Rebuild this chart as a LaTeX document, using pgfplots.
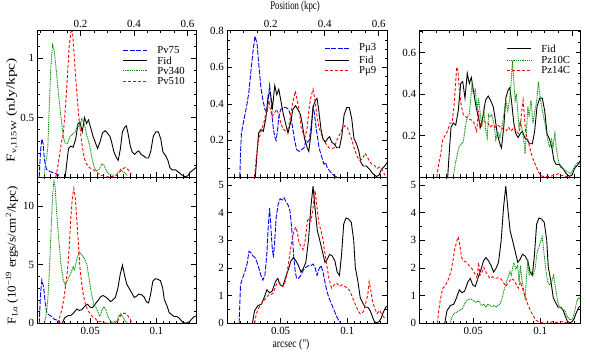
\documentclass[border=0pt]{standalone}
\usepackage{fontspec}
\setmainfont{Liberation Serif}
\usepackage{graphicx}
\usepackage{pgfplots}
\usepackage{pgfplotstable}
\pgfplotsset{compat=1.18}
\definecolor{cb}{rgb}{0,0,1}
\definecolor{cg}{rgb}{0,0.55,0}
\definecolor{cr}{rgb}{1,0,0}
\tikzset{
 fid/.style={draw=black, line width=0.9bp},
 pb/.style={draw=cb, line width=0.9bp, dash pattern=on 5bp off 1.5bp},
 pg/.style={draw=cg, line width=0.9bp, dash pattern=on 1bp off 0.8bp},
 pr/.style={draw=cr, line width=0.9bp, dash pattern=on 3bp off 2bp},
 lt/.style={anchor=west, inner sep=0pt, xshift=34bp, font=\fontsize{10.8}{11}\selectfont},
}
\pgfplotsset{
 panel/.style={scale only axis, height=146.3bp, xmin=0.01, xmax=0.13, ymin=0, anchor=south west,
   xtick={0.05,0.1}, xticklabels={0.05,0.1},
   minor xtick={0.015,0.02,0.025,0.03,0.035,0.04,0.045,0.055,0.06,0.065,0.07,0.075,0.08,0.085,0.09,0.095,0.105,0.11,0.115,0.12,0.125},
   tick align=inside, major tick length=5bp, minor tick length=2.5bp,
   tick style={black, line width=0.5bp}, axis line style={line width=0.6bp},
   ticklabel style={font=\fontsize{11}{13}\selectfont},
   /pgf/number format/assume math mode=true, scaled ticks=false},
 toprow/.style={panel, xticklabels={}, xtick pos=bottom},
 kpc/.style={scale only axis, height=146.3bp, xmin=0.01, xmax=0.13, ymin=0, ymax=1, anchor=south west,
   hide y axis, xtick pos=top, xticklabel pos=top,
   xtick={0.0425,0.083,0.1235}, xticklabels={0.2,0.4,0.6},
   minor xtick={0.0121,0.0223,0.0324,0.0526,0.0628,0.0729,0.0931,0.1033,0.1134},
   tick align=inside, major tick length=5bp, minor tick length=2.5bp,
   tick style={black, line width=0.5bp}, axis line style={line width=0.6bp},
   ticklabel style={font=\fontsize{11}{13}\selectfont},
   /pgf/number format/assume math mode=true},
}
% ---------- data ----------
\pgfplotstableread{
x y
0.0310 0.00
0.0325 0.15
0.0335 0.24
0.0352 0.26
0.0370 0.25
0.0389 0.32
0.0407 0.45
0.0422 0.46
0.0439 0.38
0.0456 0.50
0.0471 0.45
0.0486 0.48
0.0501 0.42
0.0521 0.34
0.0538 0.29
0.0555 0.24
0.0575 0.30
0.0592 0.37
0.0612 0.39
0.0629 0.37
0.0649 0.34
0.0662 0.29
0.0679 0.21
0.0699 0.16
0.0711 0.14
0.0728 0.24
0.0743 0.38
0.0761 0.42
0.0773 0.43
0.0785 0.37
0.0803 0.26
0.0817 0.21
0.0835 0.19
0.0852 0.21
0.0867 0.22
0.0884 0.19
0.0902 0.18
0.0921 0.16
0.0941 0.16
0.0958 0.22
0.0976 0.34
0.0996 0.38
0.1015 0.38
0.1033 0.32
0.1050 0.21
0.1070 0.18
0.1087 0.14
0.1102 0.08
0.1119 0.06
0.1144 0.06
0.1169 0.04
0.1194 0.016
0.1218 0.003
0.1238 0.01
0.1255 0.04
0.1280 0.06
0.1300 0.08
}\fidT
\pgfplotstableread{
x y
0.0288 0
0.0305 0.46
0.0330 0.64
0.0355 0.69
0.0372 0.87
0.0397 1.21
0.0417 1.10
0.0436 1.16
0.0461 1.50
0.0479 1.62
0.0496 1.39
0.0516 1.33
0.0535 1.62
0.0560 1.97
0.0577 2.25
0.0595 2.37
0.0615 2.25
0.0634 2.08
0.0652 1.85
0.0669 1.97
0.0689 2.20
0.0709 3.00
0.0726 4.16
0.0743 4.95
0.0758 4.16
0.0775 3.35
0.0793 3.00
0.0813 2.60
0.0832 2.20
0.0850 2.31
0.0867 2.49
0.0887 2.43
0.0907 2.25
0.0924 1.85
0.0941 1.73
0.0956 2.43
0.0973 3.58
0.0991 3.80
0.1010 3.76
0.1030 3.64
0.1048 3.00
0.1060 2.02
0.1080 1.50
0.1097 0.92
0.1114 0.75
0.1134 0.58
0.1154 0.58
0.1171 0.46
0.1189 0.23
0.1203 0.06
0.1221 0.02
0.1238 0.06
0.1253 0.17
0.1270 0.40
0.1288 0.58
0.1300 0.62
}\fidB
\pgfplotstableread{
x y
0.0113 0
0.0123 0.22
0.0133 0.32
0.0143 0.28
0.0153 0.14
0.0168 0.065
0.0188 0.05
0.0214 0.037
0.0239 0.03
0.0259 0.017
0.0269 0
}\vSevenFiveT
\pgfplotstableread{
x y
0.0113 0
0.0123 2.5
0.0133 3.68
0.0146 3.1
0.0159 1.7
0.0171 0.85
0.0189 0.7
0.0209 0.57
0.0227 0.34
0.0245 0.28
0.0260 0.28
0.0270 0
}\vSevenFiveB
\pgfplotstableread{
x y
0.0151 0
0.0158 0.09
0.0168 0.16
0.0178 0.25
0.0188 0.56
0.0201 0.93
0.0214 1.11
0.0226 1.07
0.0239 0.93
0.0259 0.70
0.0277 0.51
0.0295 0.34
0.0310 0.28
0.0327 0.28
0.0345 0.34
0.0365 0.36
0.0385 0.38
0.0403 0.43
0.0421 0.42
0.0436 0.49
0.0454 0.45
0.0471 0.36
0.0492 0.28
0.0512 0.16
0.0529 0.08
0.0547 0.05
0.0567 0.065
0.0588 0.11
0.0605 0.094
0.0623 0.05
0.0643 0.023
0.0668 0.017
0.0694 0.017
0.0714 0.045
0.0729 0.065
0.0744 0.045
0.0764 0.03
0.0782 0.01
}\vThreeT
\pgfplotstableread{
x y
0.0151 0
0.0163 0.57
0.0176 1.7
0.0188 4.0
0.0201 7.4
0.0214 10.8
0.0224 12.2
0.0234 11.6
0.0244 9.6
0.0259 7.4
0.0277 5.1
0.0295 3.7
0.0310 3.26
0.0327 3.7
0.0345 4.1
0.0360 4.5
0.0370 4.8
0.0380 4.5
0.0396 5.4
0.0416 6.1
0.0436 5.8
0.0456 5.5
0.0474 5.0
0.0492 3.7
0.0512 2.3
0.0529 1.56
0.0542 1.4
0.0557 1.0
0.0572 0.57
0.0588 1.13
0.0603 1.4
0.0618 1.13
0.0633 0.57
0.0648 0.28
0.0663 0.06
0.0681 0.14
0.0699 0.14
0.0714 0.57
0.0729 0.8
0.0744 0.57
0.0759 0.28
0.0779 0.06
}\vThreeB
\pgfplotstableread{
x y
0.0239 0
0.0252 0.08
0.0264 0.16
0.0279 0.28
0.0295 0.36
0.0310 0.56
0.0325 0.82
0.0340 1.10
0.0353 1.22
0.0363 1.25
0.0375 1.07
0.0390 0.82
0.0406 0.59
0.0421 0.42
0.0436 0.28
0.0454 0.16
0.0471 0.11
0.0492 0.08
0.0517 0.065
0.0542 0.045
0.0567 0.023
0.0593 0.01
0.0618 0.0
0.0656 0.003
0.0694 0.01
0.0719 0.037
0.0739 0.065
0.0764 0.08
0.0790 0.057
0.0810 0.023
}\vFiveT
\pgfplotstableread{
x y
0.0259 0
0.0269 0.57
0.0284 1.13
0.0302 2.27
0.0315 3.4
0.0327 4.5
0.0340 6.5
0.0353 9.1
0.0365 10.8
0.0375 11.5
0.0385 10.8
0.0398 8.8
0.0411 6.5
0.0423 4.5
0.0441 2.8
0.0461 1.7
0.0479 1.13
0.0497 0.85
0.0517 0.57
0.0537 0.42
0.0557 0.14
0.0577 0.14
0.0598 0.06
0.0630 0
0.0681 0
0.0706 0.14
0.0724 0.57
0.0744 0.85
0.0764 0.85
0.0785 0.62
0.0800 0.42
0.0810 0.14
}\vFiveB
\pgfplotstableread{
x y
0.0194 0
0.0199 0.13
0.0206 0.24
0.0224 0.31
0.0243 0.38
0.0261 0.46
0.0276 0.57
0.0293 0.69
0.0308 0.77
0.0323 0.73
0.0338 0.60
0.0352 0.49
0.0367 0.42
0.0382 0.37
0.0397 0.35
0.0407 0.42
0.0417 0.50
0.0427 0.44
0.0436 0.33
0.0446 0.26
0.0456 0.22
0.0466 0.20
0.0476 0.25
0.0486 0.33
0.0501 0.37
0.0521 0.38
0.0540 0.38
0.0560 0.37
0.0577 0.33
0.0590 0.27
0.0605 0.20
0.0620 0.15
0.0639 0.14
0.0659 0.15
0.0676 0.16
0.0689 0.20
0.0699 0.19
0.0714 0.20
0.0728 0.27
0.0743 0.38
0.0753 0.35
0.0768 0.26
0.0788 0.16
0.0808 0.11
0.0825 0.07
0.0837 0.08
0.0850 0.05
0.0874 0.027
0.0899 0.009
0.0924 0
}\muThreeT
\pgfplotstableread{
x y
0.0189 0
0.0199 1.39
0.0214 1.62
0.0231 1.85
0.0248 2.14
0.0263 2.6
0.0278 2.54
0.0293 2.43
0.0308 2.37
0.0323 2.2
0.0338 1.97
0.0352 1.73
0.0367 1.56
0.0382 1.73
0.0397 2.54
0.0407 3.47
0.0417 4.16
0.0427 3.47
0.0436 2.77
0.0446 2.37
0.0456 3.0
0.0466 3.8
0.0481 4.28
0.0496 4.5
0.0511 4.45
0.0526 4.53
0.0540 4.39
0.0555 4.28
0.0570 4.05
0.0580 3.58
0.0590 3.0
0.0600 2.31
0.0610 1.85
0.0620 1.62
0.0634 1.62
0.0652 1.73
0.0669 1.91
0.0689 2.02
0.0709 2.08
0.0728 2.08
0.0743 2.14
0.0758 2.02
0.0773 1.73
0.0788 1.97
0.0803 2.08
0.0818 1.85
0.0832 1.5
0.0847 1.16
0.0862 0.92
0.0882 0.69
0.0902 0.46
0.0921 0.23
0.0941 0.06
0.0956 0
}\muThreeB
\pgfplotstableread{
x y
0.0305 0
0.0318 0.11
0.0330 0.18
0.0342 0.22
0.0357 0.26
0.0372 0.29
0.0387 0.34
0.0402 0.38
0.0412 0.42
0.0422 0.37
0.0436 0.33
0.0454 0.35
0.0471 0.37
0.0486 0.34
0.0503 0.29
0.0521 0.26
0.0540 0.25
0.0560 0.27
0.0577 0.35
0.0595 0.42
0.0610 0.47
0.0624 0.42
0.0639 0.37
0.0654 0.27
0.0669 0.24
0.0684 0.22
0.0699 0.27
0.0714 0.38
0.0728 0.44
0.0743 0.48
0.0758 0.42
0.0773 0.33
0.0788 0.27
0.0803 0.24
0.0822 0.20
0.0842 0.18
0.0862 0.16
0.0882 0.155
0.0902 0.16
0.0921 0.20
0.0941 0.23
0.0961 0.26
0.0981 0.28
0.1001 0.27
0.1015 0.24
0.1035 0.20
0.1055 0.15
0.1075 0.11
0.1095 0.09
0.1114 0.10
0.1134 0.13
0.1149 0.11
0.1164 0.09
0.1184 0.07
0.1203 0.064
0.1223 0.046
0.1243 0.055
0.1263 0.037
0.1283 0.009
}\muNineT
\pgfplotstableread{
x y
0.0305 0
0.0318 0.35
0.0338 0.58
0.0355 0.69
0.0372 0.81
0.0392 0.92
0.0412 1.04
0.0429 1.04
0.0446 1.1
0.0461 1.33
0.0479 1.5
0.0496 1.45
0.0516 1.33
0.0535 1.5
0.0553 1.97
0.0570 2.54
0.0585 3.0
0.0602 3.35
0.0615 3.47
0.0627 3.24
0.0639 2.89
0.0654 2.77
0.0669 2.66
0.0684 3.0
0.0701 3.7
0.0714 3.8
0.0728 3.7
0.0743 4.16
0.0758 4.8
0.0773 4.16
0.0788 3.58
0.0803 3.35
0.0818 3.0
0.0832 2.54
0.0847 2.08
0.0862 1.62
0.0882 1.27
0.0902 1.39
0.0921 1.45
0.0941 1.33
0.0961 1.39
0.0981 1.33
0.1001 1.27
0.1020 1.16
0.1040 0.92
0.1060 0.69
0.1080 0.46
0.1095 0.35
0.1109 0.35
0.1124 0.46
0.1139 0.75
0.1154 1.04
0.1164 1.5
0.1174 1.27
0.1189 0.81
0.1203 0.58
0.1223 0.35
0.1243 0.46
0.1263 0.29
0.1283 0.17
}\muNineB
\pgfplotstableread{
x y
0.0352 0
0.0367 0.064
0.0382 0.11
0.0397 0.15
0.0412 0.16
0.0427 0.17
0.0441 0.24
0.0456 0.29
0.0471 0.30
0.0481 0.37
0.0491 0.45
0.0501 0.40
0.0516 0.42
0.0530 0.32
0.0540 0.38
0.0550 0.32
0.0565 0.24
0.0580 0.32
0.0595 0.22
0.0605 0.19
0.0615 0.30
0.0625 0.29
0.0639 0.30
0.0654 0.26
0.0669 0.18
0.0684 0.22
0.0699 0.19
0.0714 0.24
0.0728 0.30
0.0743 0.37
0.0758 0.32
0.0773 0.38
0.0783 0.46
0.0793 0.56
0.0803 0.46
0.0813 0.37
0.0822 0.40
0.0832 0.32
0.0842 0.24
0.0852 0.27
0.0867 0.22
0.0877 0.18
0.0887 0.11
0.0897 0.22
0.0907 0.34
0.0917 0.29
0.0931 0.37
0.0946 0.26
0.0961 0.32
0.0976 0.38
0.0986 0.46
0.0996 0.40
0.1010 0.34
0.1025 0.29
0.1040 0.24
0.1055 0.18
0.1070 0.144
0.1085 0.18
0.1095 0.144
0.1109 0.21
0.1119 0.144
0.1134 0.08
0.1149 0.048
0.1169 0.04
0.1189 0.032
0.1208 0.024
0.1228 0.016
0.1248 0.04
0.1268 0.064
0.1288 0.072
0.1300 0.056
}\zTenT
\pgfplotstableread{
x y
0.0328 0
0.0342 0.23
0.0357 0.35
0.0377 0.40
0.0397 0.46
0.0417 0.52
0.0436 0.69
0.0451 0.81
0.0466 0.87
0.0486 0.87
0.0506 0.81
0.0521 0.75
0.0535 0.81
0.0550 0.75
0.0565 0.64
0.0580 0.69
0.0595 0.58
0.0610 0.69
0.0625 0.64
0.0639 0.6
0.0654 0.64
0.0669 0.58
0.0684 0.64
0.0699 0.69
0.0714 0.87
0.0728 1.16
0.0743 1.39
0.0758 1.62
0.0773 1.85
0.0783 1.73
0.0793 1.97
0.0803 2.2
0.0818 1.97
0.0832 2.08
0.0842 1.5
0.0852 2.08
0.0862 1.62
0.0877 1.16
0.0887 0.92
0.0897 1.62
0.0907 2.31
0.0917 1.73
0.0931 1.85
0.0946 1.73
0.0961 1.97
0.0976 2.54
0.0991 2.77
0.1006 3.0
0.1015 3.12
0.1025 2.66
0.1040 1.97
0.1055 1.5
0.1070 1.39
0.1085 1.5
0.1099 1.73
0.1114 1.27
0.1129 0.81
0.1144 0.58
0.1164 0.52
0.1184 0.46
0.1203 0.23
0.1223 0.12
0.1243 0.17
0.1258 0.46
0.1273 0.81
0.1288 0.92
0.1300 0.87
}\zTenB
\pgfplotstableread{
x y
0.0229 0
0.0243 0.064
0.0258 0.11
0.0273 0.18
0.0291 0.20
0.0308 0.22
0.0328 0.26
0.0342 0.26
0.0357 0.34
0.0367 0.43
0.0377 0.53
0.0387 0.51
0.0397 0.42
0.0412 0.34
0.0427 0.30
0.0446 0.29
0.0466 0.28
0.0486 0.275
0.0501 0.27
0.0516 0.24
0.0526 0.22
0.0540 0.32
0.0550 0.24
0.0565 0.26
0.0580 0.27
0.0595 0.26
0.0610 0.26
0.0625 0.24
0.0644 0.25
0.0664 0.24
0.0684 0.25
0.0704 0.24
0.0723 0.23
0.0743 0.22
0.0763 0.24
0.0783 0.22
0.0803 0.24
0.0822 0.22
0.0837 0.21
0.0852 0.24
0.0862 0.32
0.0872 0.37
0.0882 0.29
0.0892 0.21
0.0907 0.18
0.0921 0.144
0.0941 0.096
0.0961 0.064
0.0981 0.032
0.1001 0.008
0.1020 0.003
0.1070 0.003
0.1107 0.008
0.1132 0.016
0.1156 0.008
0.1194 0.003
0.1218 0
}\zFourT
\pgfplotstableread{
x y
0.0234 0
0.0243 0.46
0.0258 0.92
0.0273 1.27
0.0288 1.33
0.0303 1.45
0.0318 1.62
0.0333 1.85
0.0347 2.2
0.0362 2.66
0.0377 2.95
0.0389 3.12
0.0402 2.77
0.0414 2.37
0.0432 2.25
0.0451 2.2
0.0471 2.08
0.0491 1.97
0.0506 1.85
0.0521 1.73
0.0530 1.62
0.0540 2.2
0.0550 1.73
0.0565 1.85
0.0580 2.02
0.0595 1.85
0.0610 1.73
0.0625 1.62
0.0644 1.68
0.0664 1.62
0.0684 1.64
0.0704 1.62
0.0723 1.5
0.0743 1.33
0.0763 1.45
0.0783 1.62
0.0803 1.56
0.0822 1.39
0.0837 1.27
0.0852 1.5
0.0867 1.27
0.0887 0.98
0.0907 0.69
0.0926 0.46
0.0946 0.29
0.0966 0.12
0.0986 0.06
0.1010 0.02
0.1045 0
0.1095 0.06
0.1132 0.02
0.1169 0.06
0.1206 0
}\zFourB
\begin{document}
\begin{tikzpicture}
\path[use as bounding box] (0,0) rectangle (590bp,354bp);
% ===== column 1 =====
\begin{axis}[toprow, at={(37.5bp,177bp)}, width=158.5bp, ymax=1.231,
  ytick={0,0.5,1}, yticklabels={,0.5,1}, minor ytick={0.1,0.2,0.3,0.4,0.6,0.7,0.8,0.9,1.1,1.2}]
\addplot[pb] table {\vSevenFiveT};
\addplot[fid] table {\fidT};
\addplot[pg] table {\vThreeT};
\addplot[pr] table {\vFiveT};
\draw[pb] (axis description cs:0.54,0.868) -- ++(24bp,0bp);
\draw[fid] (axis description cs:0.54,0.796) -- ++(24bp,0bp);
\draw[pg] (axis description cs:0.54,0.725) -- ++(24bp,0bp);
\draw[pr] (axis description cs:0.54,0.654) -- ++(24bp,0bp);
\node[lt] at (axis description cs:0.54,0.868) {Pv75};
\node[lt] at (axis description cs:0.54,0.796) {Fid};
\node[lt] at (axis description cs:0.54,0.725) {Pv340};
\node[lt] at (axis description cs:0.54,0.654) {Pv510};
\end{axis}
\begin{axis}[kpc, at={(37.5bp,177bp)}, width=158.5bp]
\end{axis}
\begin{axis}[panel, at={(37.5bp,30.7bp)}, width=158.5bp, ymax=12.47,
  ytick={0,5,10}, yticklabels={0,5,10}, minor ytick={1,2,3,4,6,7,8,9,11,12}]
\addplot[pb] table {\vSevenFiveB};
\addplot[fid] table {\fidB};
\addplot[pg] table {\vThreeB};
\addplot[pr] table {\vFiveB};
\end{axis}
% ===== column 2 =====
\begin{axis}[toprow, at={(227.3bp,177bp)}, width=160bp, ymax=0.8,
  ytick={0,0.2,0.4,0.6,0.8}, yticklabels={,0.2,0.4,0.6,0.8},
  minor ytick={0.05,0.1,0.15,0.25,0.3,0.35,0.45,0.5,0.55,0.65,0.7,0.75}]
\addplot[pb] table {\muThreeT};
\addplot[fid] table {\fidT};
\addplot[pr] table {\muNineT};
\draw[pb] (axis description cs:0.61,0.878) -- ++(24bp,0bp);
\draw[fid] (axis description cs:0.61,0.800) -- ++(24bp,0bp);
\draw[pr] (axis description cs:0.61,0.727) -- ++(24bp,0bp);
\node[lt] at (axis description cs:0.61,0.878) {Pμ3};
\node[lt] at (axis description cs:0.61,0.800) {Fid};
\node[lt] at (axis description cs:0.61,0.727) {Pμ9};
\end{axis}
\begin{axis}[kpc, at={(227.3bp,177bp)}, width=160bp]
\end{axis}
\begin{axis}[panel, at={(227.3bp,30.7bp)}, width=160bp, ymax=5.28,
  ytick={0,1,2,3,4,5}, yticklabels={0,1,2,3,4,5}, minor ytick={0.5,1.5,2.5,3.5,4.5}]
\addplot[pb] table {\muThreeB};
\addplot[fid] table {\fidB};
\addplot[pr] table {\muNineB};
\end{axis}
% ===== column 3 =====
\begin{axis}[toprow, at={(419.5bp,177bp)}, width=161bp, ymax=0.705,
  ytick={0,0.2,0.4,0.6}, yticklabels={,0.2,0.4,0.6},
  minor ytick={0.05,0.1,0.15,0.25,0.3,0.35,0.45,0.5,0.55,0.65,0.7}]
\addplot[fid] table {\fidT};
\addplot[pg] table {\zTenT};
\addplot[pr] table {\zFourT};
\draw[fid] (axis description cs:0.545,0.878) -- ++(24bp,0bp);
\draw[pg] (axis description cs:0.545,0.800) -- ++(24bp,0bp);
\draw[pr] (axis description cs:0.545,0.731) -- ++(24bp,0bp);
\node[lt] at (axis description cs:0.545,0.878) {Fid};
\node[lt] at (axis description cs:0.545,0.800) {Pz10C};
\node[lt] at (axis description cs:0.545,0.731) {Pz14C};
\end{axis}
\begin{axis}[kpc, at={(419.5bp,177bp)}, width=161bp, xticklabels={}]
\end{axis}
\begin{axis}[panel, at={(419.5bp,30.7bp)}, width=161bp, ymax=5.28,
  ytick={0,1,2,3,4,5}, yticklabels={0,1,2,3,4,5}, minor ytick={0.5,1.5,2.5,3.5,4.5}]
\addplot[fid] table {\fidB};
\addplot[pg] table {\zTenB};
\addplot[pr] table {\zFourB};
\end{axis}
% ===== labels =====
\node at (295bp,347bp) {\scalebox{0.8}[1.07]{\fontsize{11}{13}\selectfont Position (kpc)}};
\node at (291bp,9bp) {\scalebox{0.88}[1.07]{\fontsize{11}{13}\selectfont arcsec (\textquotedbl)}};
\node[rotate=90] at (12bp,244bp) {\scalebox{1.3}[1]{\fontsize{12}{14}\selectfont F\textsubscript{ν,115W} (nJy/kpc)}};
\node[rotate=90] at (12bp,99bp) {\scalebox{1.1}[1]{\fontsize{12}{14}\selectfont F\textsubscript{Lα} (10\textsuperscript{−19} ergs/s/cm\textsuperscript{2}/kpc)}};
\end{tikzpicture}
\end{document}
